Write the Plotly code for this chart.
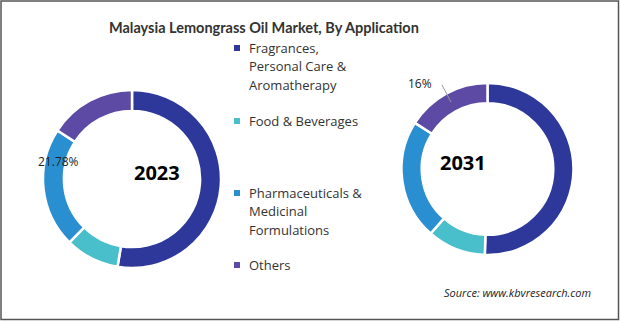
import plotly.graph_objects as go

W, H = 620, 321

categories = ["Fragrances,<br>Personal Care &<br>Aromatherapy", "Food & Beverages",
              "Pharmaceuticals &<br>Medicinal<br>Formulations", "Others"]
values_2023 = [52.6, 9.8, 21.78, 15.82]
values_2031 = [50.5, 11.0, 22.5, 16.0]
years = ["2023", "2031"]
colors = ["#2D389A", "#48BFCB", "#2A8FD0", "#5D4AA4"]


def px(x, y):
    return x / W, 1 - y / H


fig = go.Figure()


def add_donut(vals, name, x0, x1, y0, y1):
    fig.add_trace(go.Pie(
        values=vals, labels=[c.replace("<br>", " ") for c in categories], name=name,
        sort=False, direction="clockwise", rotation=0, hole=0.765,
        marker=dict(colors=colors, line=dict(color="white", width=2.5)),
        textinfo="none", hoverinfo="label+percent", showlegend=False,
        domain=dict(x=[x0 / W, x1 / W], y=[1 - y1 / H, 1 - y0 / H]),
    ))


add_donut(values_2023, years[0], 43, 221, 90, 268)
add_donut(values_2031, years[1], 401.5, 573.5, 83, 255)

ann = []
# title
tx, ty = px(264, 17)
ann.append(dict(x=tx, y=ty, text="<b>Malaysia Lemongrass Oil Market, By Application</b>",
                showarrow=False, xanchor="center",
                font=dict(family="Lato", size=14.5, color="#333333")))
# center year labels
for yr, (cx, cy) in zip(years, [(132, 173), (488, 163)]):
    x, y = px(cx, cy)
    ann.append(dict(x=x, y=y, text=f"<b>{yr}</b>", showarrow=False,
                    font=dict(family="Open Sans", size=20, color="#000000")))
# data labels
x, y = px(36, 162)
ann.append(dict(x=x, y=y, text=f"{values_2023[2]:g}%", showarrow=False,
                font=dict(family="Open Sans", size=12, color="#222222")))
x, y = px(434, 73)
ann.append(dict(x=x, y=y, text=f"{values_2031[3]:g}%", showarrow=False,
                font=dict(family="Open Sans", size=12, color="#222222")))
# legend
leg_y = [48, 121, 193, 265]
line_gap = 18.3
shapes = []
for cat, col, ly in zip(categories, colors, leg_y):
    for i, line in enumerate(cat.split("<br>")):
        x, y = px(247, ly + i * line_gap)
        ann.append(dict(x=x, y=y, text=line, showarrow=False, xanchor="left",
                        yanchor="middle", align="left",
                        font=dict(family="Open Sans", size=13, color="#333333")))
    shapes.append(dict(type="rect", xref="paper", yref="paper",
                       x0=234 / W, x1=240 / W, y0=1 - (ly + 3) / H, y1=1 - (ly - 3) / H,
                       fillcolor=col, line=dict(width=0)))
# source
x, y = px(593, 302)
ann.append(dict(x=x, y=y, text="<i>Source: www.kbvresearch.com</i>", showarrow=False,
                xanchor="right", font=dict(family="Open Sans", size=11, color="#222222")))

# leader line for 16%
shapes.append(dict(type="line", xref="paper", yref="paper", x0=442 / W, y0=1 - 85 / H,
                   x1=451 / W, y1=1 - 102 / H, line=dict(color="#999999", width=1)))
# border
shapes.append(dict(type="rect", xref="paper", yref="paper", x0=1 / W, x1=1 - 1.5 / W,
                   y0=1.5 / H, y1=1 - 1 / H, line=dict(color="#555555", width=1.5)))

fig.update_layout(
    width=W, height=H, margin=dict(l=0, r=0, t=0, b=0),
    paper_bgcolor="white", plot_bgcolor="white",
    annotations=ann, shapes=shapes, showlegend=False,
)

fig.write_html("out.html")
